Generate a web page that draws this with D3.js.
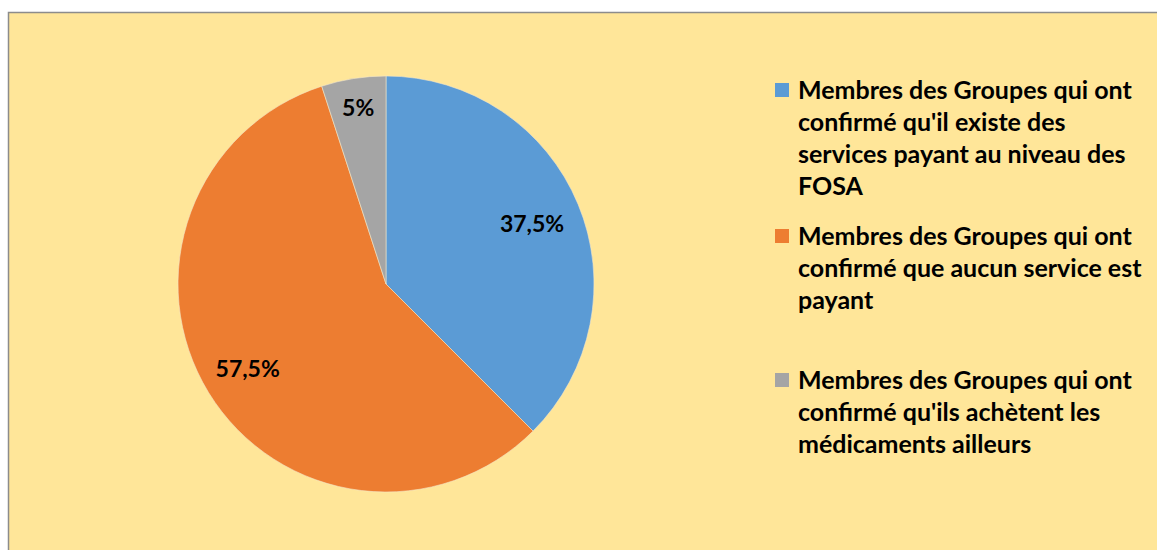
<!DOCTYPE html>
<html>
<head>
<meta charset="utf-8">
<script src="https://cdn.jsdelivr.net/npm/d3@7"></script>
<style>
  body { margin: 0; background: #fff; }
  text { font-family: Lato, "Open Sans", sans-serif; font-weight: bold; }
</style>
</head>
<body>
<script>
var categories = [
  ["Membres des Groupes qui ont", "confirmé qu'il existe des", "services payant au niveau des", "FOSA"],
  ["Membres des Groupes qui ont", "confirmé que aucun service est", "payant"],
  ["Membres des Groupes qui ont", "confirmé qu'ils achètent les", "médicaments ailleurs"]
];
var values = [37.5, 57.5, 5];
var valueLabels = ["37,5%", "57,5%", "5%"];
var colors = ["#5B9BD5", "#ED7D31", "#A5A5A5"];

var W = 1157, H = 550;
var svg = d3.select("body").append("svg")
    .attr("width", W)
    .attr("height", H);

// chart area, cut off at right and bottom like the original screenshot
svg.append("rect")
    .attr("x", 8.5).attr("y", 12.5)
    .attr("width", W).attr("height", H)
    .attr("fill", "#FFE699")
    .attr("stroke", "#8c8c8c")
    .attr("stroke-width", 1.5);

var cx = 386, cy = 284, r = 208;

var pie = d3.pie().sort(null).value(function (d) { return d; });
var arc = d3.arc().innerRadius(0).outerRadius(r);
var arcs = pie(values);

var g = svg.append("g").attr("transform", "translate(" + cx + "," + cy + ")");

g.selectAll("path")
    .data(arcs)
    .enter().append("path")
    .attr("d", arc)
    .attr("fill", function (d, i) { return colors[i]; })
    .attr("stroke", "#f3e6c8")
    .attr("stroke-width", 0.6);

// label positions as fraction of radius
var labelR = [0.76, 0.78, 0.855];
g.selectAll("text.val")
    .data(arcs)
    .enter().append("text")
    .attr("class", "val")
    .attr("transform", function (d, i) {
        var a = d3.arc().innerRadius(r * labelR[i]).outerRadius(r * labelR[i]);
        return "translate(" + a.centroid(d) + ")";
    })
    .attr("text-anchor", "middle")
    .attr("dy", "0.35em")
    .attr("font-size", 23)
    .attr("fill", "#000")
    .text(function (d, i) { return valueLabels[i]; });

// legend
var legendTop = [90, 236, 380];
var lineH = 32;
var fs = 20;
var leg = svg.append("g");

categories.forEach(function (lines, i) {
    leg.append("rect")
        .attr("x", 775).attr("y", legendTop[i] - 7)
        .attr("width", 14).attr("height", 14)
        .attr("fill", colors[i]);
    var t = leg.append("text")
        .attr("x", 798).attr("y", legendTop[i])
        .attr("font-size", fs)
        .attr("fill", "#000");
    lines.forEach(function (s, j) {
        t.append("tspan")
            .attr("x", 798)
            .attr("y", legendTop[i] + j * lineH)
            .attr("dy", "0.35em")
            .text(s);
    });
});

// fit legend font to the original width of the first line
var probe = leg.select("tspan").node();
var w = probe.getComputedTextLength();
var scale = 334 / w;
leg.selectAll("text").attr("font-size", fs * scale);
</script>
</body>
</html>
